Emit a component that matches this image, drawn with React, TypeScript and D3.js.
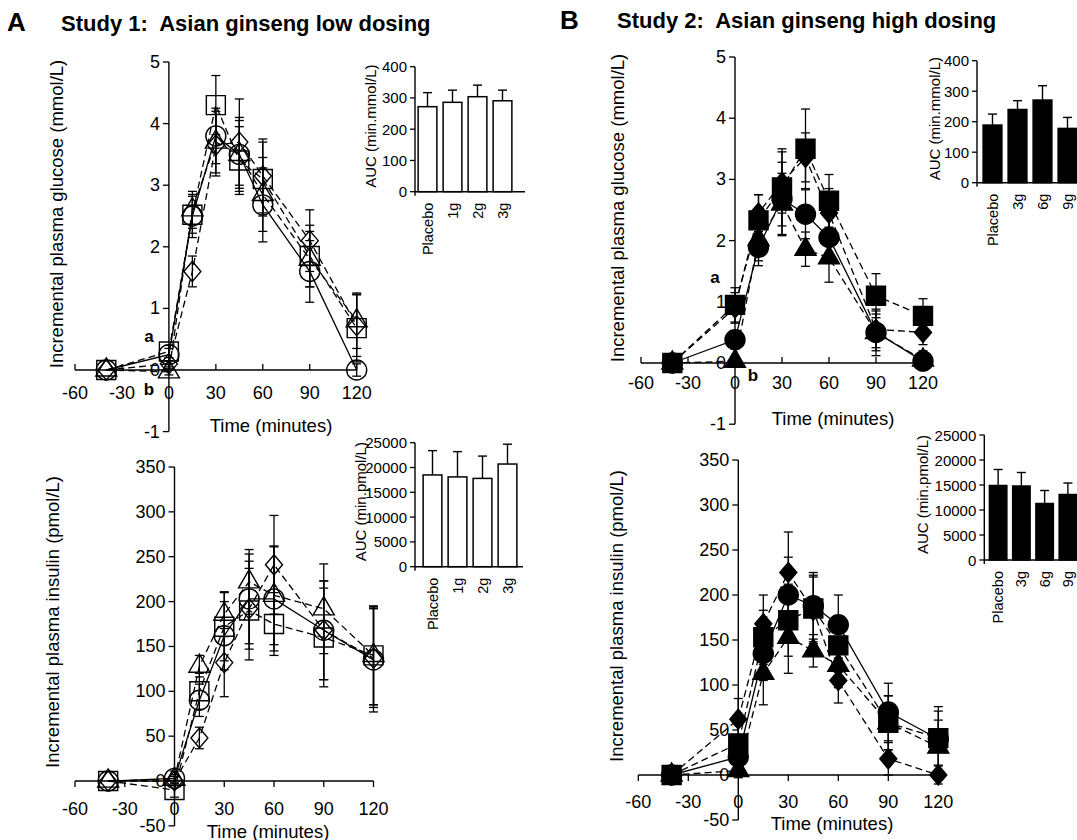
import React from "react";
import * as d3 from "d3";

const FONT = "'Liberation Sans', Arial, Helvetica, sans-serif";

// sampling times (minutes)
const times = [-40, 0, 15, 30, 45, 60, 90, 120];
const xTicks = [-60, -30, 0, 30, 60, 90, 120];
const glucoseTicks = [-1, 0, 1, 2, 3, 4, 5];
const insulinTicks = [-50, 0, 50, 100, 150, 200, 250, 300, 350];

// Study 1 (low dose) glucose, mmol/L
const s1GluCircle = [0, 0.25, 2.5, 3.8, 3.5, 2.68, 1.6, 0];
const s1GluCircleErr = [0, 0.1, 0.35, 0.45, 0.55, 0.6, 0.5, 0.1];
const s1GluSquare = [0, 0.3, 2.52, 4.3, 3.4, 3.1, 1.85, 0.68];
const s1GluSquareErr = [0, 0.1, 0.3, 0.48, 0.55, 0.6, 0.5, 0.55];
const s1GluTriangle = [0, -0.03, 2.6, 3.7, 3.5, 2.85, 1.8, 0.8];
const s1GluTriangleErr = [0, 0.05, 0.3, 0.5, 0.6, 0.6, 0.45, 0.45];
const s1GluDiamond = [0, 0.1, 1.6, 3.65, 3.7, 3.15, 2.1, 0.72];
const s1GluDiamondErr = [0, 0.05, 0.25, 0.5, 0.7, 0.6, 0.5, 0.5];

// Study 1 insulin, pmol/L
const s1InsCircle = [0, 3, 90, 162, 203, 203, 168, 135];
const s1InsCircleErr = [0, 8, 18, 38, 50, 58, 55, 58];
const s1InsSquare = [0, -10, 100, 172, 190, 175, 160, 140];
const s1InsSquareErr = [0, 8, 20, 38, 55, 35, 55, 55];
const s1InsTriangle = [0, 2, 128, 186, 222, 207, 192, 140];
const s1InsTriangleErr = [0, 5, 12, 25, 36, 55, 50, 55];
const s1InsDiamond = [0, 0, 48, 132, 192, 241, 168, 137];
const s1InsDiamondErr = [0, 5, 12, 38, 45, 55, 55, 55];

// Study 2 (high dose) glucose
const s2GluCircle = [0, 0.38, 1.89, 2.68, 2.43, 2.05, 0.5, 0.03];
const s2GluCircleErr = [0, 0.15, 0.3, 0.6, 0.4, 0.4, 0.38, 0.15];
const s2GluSquare = [0, 0.95, 2.33, 2.87, 3.5, 2.65, 1.1, 0.77];
const s2GluSquareErr = [0, 0.28, 0.42, 0.63, 0.65, 0.43, 0.36, 0.28];
const s2GluTriangle = [0, 0.03, 2.02, 2.6, 1.86, 1.72, 0.5, 0.05];
const s2GluTriangleErr = [0, 0.05, 0.35, 0.5, 0.28, 0.4, 0.3, 0.15];
const s2GluDiamond = [0, 0.9, 2.45, 2.95, 3.36, 2.45, 0.55, 0.5];
const s2GluDiamondErr = [0, 0.25, 0.3, 0.5, 0.4, 0.4, 0.3, 0.2];

// Study 2 insulin
const s2InsCircle = [0, 20, 135, 200, 188, 167, 70, 40];
const s2InsCircleErr = [0, 12, 30, 42, 37, 33, 32, 36];
const s2InsSquare = [0, 35, 153, 172, 185, 144, 58, 41];
const s2InsSquareErr = [0, 20, 30, 40, 37, 30, 30, 30];
const s2InsTriangle = [0, 5, 113, 153, 138, 122, 58, 31];
const s2InsTriangleErr = [0, 8, 35, 40, 18, 25, 30, 30];
const s2InsDiamond = [0, 62, 168, 225, 183, 105, 18, 0];
const s2InsDiamondErr = [0, 23, 32, 45, 37, 25, 18, 10];

// AUC insets
const s1Doses = ["Placebo", "1g", "2g", "3g"];
const s2Doses = ["Placebo", "3g", "6g", "9g"];
const s1GluAuc = [272, 286, 304, 291];
const s1GluAucErr = [45, 39, 37, 34];
const s1InsAuc = [18500, 18100, 17800, 20700];
const s1InsAucErr = [4900, 5100, 4500, 4000];
const s2GluAuc = [189, 240, 271, 178];
const s2GluAucErr = [36, 29, 47, 36];
const s2InsAuc = [14900, 14800, 11300, 13100];
const s2InsAucErr = [3200, 2700, 2600, 2300];
const gluAucTicks = [0, 100, 200, 300, 400];
const insAucTicks = [0, 5000, 10000, 15000, 20000, 25000];

type Series = { shape: string; dashed: boolean; values: number[]; errors: number[] };

const mk = (v: number[][]): Series[] => [
  { shape: "circle", dashed: false, values: v[0], errors: v[1] },
  { shape: "square", dashed: true, values: v[2], errors: v[3] },
  { shape: "triangle", dashed: true, values: v[4], errors: v[5] },
  { shape: "diamond", dashed: true, values: v[6], errors: v[7] },
];

const s1Glu = mk([s1GluCircle, s1GluCircleErr, s1GluSquare, s1GluSquareErr, s1GluTriangle, s1GluTriangleErr, s1GluDiamond, s1GluDiamondErr]);
const s1Ins = mk([s1InsCircle, s1InsCircleErr, s1InsSquare, s1InsSquareErr, s1InsTriangle, s1InsTriangleErr, s1InsDiamond, s1InsDiamondErr]);
const s2Glu = mk([s2GluCircle, s2GluCircleErr, s2GluSquare, s2GluSquareErr, s2GluTriangle, s2GluTriangleErr, s2GluDiamond, s2GluDiamondErr]);
const s2Ins = mk([s2InsCircle, s2InsCircleErr, s2InsSquare, s2InsSquareErr, s2InsTriangle, s2InsTriangleErr, s2InsDiamond, s2InsDiamondErr]);

function markerPath(shape: string) {
  if (shape === "circle") return d3.symbol(d3.symbolCircle, Math.PI * 10 * 10)()!;
  if (shape === "square") return d3.symbol(d3.symbolSquare, 19 * 19)()!;
  if (shape === "triangle") return d3.symbol(d3.symbolTriangle, (Math.sqrt(3) / 4) * 21 * 21)()!;
  return "M0,-10L8.5,0L0,10L-8.5,0Z";
}

type PanelProps = {
  series: Series[];
  xRange: [number, number];
  yDomain: [number, number];
  yRange: [number, number];
  yTicks: number[];
  filled: boolean;
  tickUp: boolean;
  labelGap: number;
  xTitle: [number, number];
  yTitle: [number, number, string];
};

function TimePanel({ series, xRange, yDomain, yRange, yTicks, filled, tickUp, labelGap, xTitle, yTitle }: PanelProps) {
  const x = d3.scaleLinear().domain([-60, 120]).range(xRange);
  const y = d3.scaleLinear().domain(yDomain).range(yRange);
  const line = d3
    .line<number>()
    .x((_, i) => x(times[i]))
    .y((d) => y(d));
  const x0 = x(0);
  const y0 = y(0);

  return (
    <g fontFamily={FONT}>
      {/* x axis */}
      <line x1={x(-60)} x2={x(120)} y1={y0} y2={y0} stroke="black" strokeWidth={1.4} />
      {xTicks.map((t) => (
        <g key={t}>
          {t !== 0 && (
            <line x1={x(t)} x2={x(t)} y1={y0} y2={tickUp ? y0 - 6 : y0 + 6} stroke="black" strokeWidth={1.3} />
          )}
          <text x={x(t)} y={y0 + labelGap} textAnchor="middle" dominantBaseline="central" fontSize={18}>
            {t}
          </text>
        </g>
      ))}
      {/* y axis */}
      <line x1={x0} x2={x0} y1={y(yDomain[0])} y2={y(yDomain[1])} stroke="black" strokeWidth={1.4} />
      {yTicks.map((t) => (
        <g key={t}>
          <line x1={x0 - 6} x2={x0} y1={y(t)} y2={y(t)} stroke="black" strokeWidth={1.3} />
          <text x={x0 - 9} y={y(t)} textAnchor="end" dominantBaseline="central" fontSize={18}>
            {t}
          </text>
        </g>
      ))}

      {/* series */}
      {series.map((s) => (
        <g key={s.shape}>
          <path
            d={line(s.values)!}
            fill="none"
            stroke="black"
            strokeWidth={1.3}
            strokeDasharray={s.dashed ? "7,4" : undefined}
          />
          {s.values.map((v, i) =>
            s.errors[i] > 0 ? (
              <g key={i} stroke="black" strokeWidth={1.3}>
                <line x1={x(times[i])} x2={x(times[i])} y1={y(v - s.errors[i])} y2={y(v + s.errors[i])} />
                <line x1={x(times[i]) - 4.5} x2={x(times[i]) + 4.5} y1={y(v + s.errors[i])} y2={y(v + s.errors[i])} />
                <line x1={x(times[i]) - 4.5} x2={x(times[i]) + 4.5} y1={y(v - s.errors[i])} y2={y(v - s.errors[i])} />
              </g>
            ) : null
          )}
          {s.values.map((v, i) => (
            <path
              key={"m" + i}
              d={markerPath(s.shape)}
              transform={`translate(${x(times[i])},${y(v)})`}
              fill={filled ? "black" : "none"}
              stroke="black"
              strokeWidth={1.4}
            />
          ))}
        </g>
      ))}

      <text x={xTitle[0]} y={xTitle[1]} textAnchor="middle" dominantBaseline="central" fontSize={18.5}>
        Time (minutes)
      </text>
      <text
        transform={`translate(${yTitle[0]},${yTitle[1]}) rotate(-90)`}
        textAnchor="middle"
        dominantBaseline="central"
        fontSize={18.5}
      >
        {yTitle[2]}
      </text>
    </g>
  );
}

type InsetProps = {
  cats: string[];
  means: number[];
  errs: number[];
  ticks: number[];
  filled: boolean;
  axisX: number;
  axisEnd: number;
  yRange: [number, number];
  band: [number, number];
  title: string;
  titleX: number;
};

function Inset({ cats, means, errs, ticks, filled, axisX, axisEnd, yRange, band, title, titleX }: InsetProps) {
  const y = d3
    .scaleLinear()
    .domain([0, ticks[ticks.length - 1]])
    .range(yRange);
  const x = d3.scaleBand().domain(cats).range(band).paddingInner(0.25).paddingOuter(0.125);
  const y0 = y(0);
  return (
    <g fontFamily={FONT}>
      {cats.map((c, i) => {
        const cx = x(c)! + x.bandwidth() / 2;
        return (
          <g key={c}>
            <rect
              x={x(c)}
              y={y(means[i])}
              width={x.bandwidth()}
              height={y0 - y(means[i])}
              fill={filled ? "black" : "white"}
              stroke="black"
              strokeWidth={1.5}
            />
            <line x1={cx} x2={cx} y1={y(means[i])} y2={y(means[i] + errs[i])} stroke="black" strokeWidth={1.4} />
            <line
              x1={cx - 4.5}
              x2={cx + 4.5}
              y1={y(means[i] + errs[i])}
              y2={y(means[i] + errs[i])}
              stroke="black"
              strokeWidth={1.4}
            />
            <text
              transform={`translate(${cx},${y0 + 11}) rotate(-90)`}
              textAnchor="end"
              dominantBaseline="central"
              fontSize={14.5}
            >
              {c}
            </text>
          </g>
        );
      })}
      <line x1={axisX} x2={axisX} y1={y0 + 4} y2={yRange[1]} stroke="black" strokeWidth={1.4} />
      <line x1={axisX} x2={axisEnd} y1={y0} y2={y0} stroke="black" strokeWidth={1.4} />
      {ticks.map((t) => (
        <g key={t}>
          <line x1={axisX - 5} x2={axisX} y1={y(t)} y2={y(t)} stroke="black" strokeWidth={1.3} />
          <text x={axisX - 8} y={y(t)} textAnchor="end" dominantBaseline="central" fontSize={15}>
            {t}
          </text>
        </g>
      ))}
      <text
        transform={`translate(${titleX},${(yRange[0] + yRange[1]) / 2 - 3}) rotate(-90)`}
        textAnchor="middle"
        dominantBaseline="central"
        fontSize={15}
      >
        {title}
      </text>
    </g>
  );
}

export default function App() {
  return (
    <div style={{ position: "absolute", left: 0, top: 0 }}>
      <svg width={1077} height={840} style={{ display: "block", background: "white" }}>
        <g fontFamily={FONT} fontWeight="bold">
          <text x={7} y={31} fontSize={26}>A</text>
          <text x={61} y={31} fontSize={22}>{"Study 1:\u00a0 Asian ginseng low dosing"}</text>
          <text x={560} y={29} fontSize={26}>B</text>
          <text x={617} y={28} fontSize={22}>{"Study 2:\u00a0 Asian ginseng high dosing"}</text>
          <text x={149} y={336} fontSize={17} textAnchor="middle" dominantBaseline="central">a</text>
          <text x={149} y={389} fontSize={17} textAnchor="middle" dominantBaseline="central">b</text>
          <text x={715} y={277} fontSize={17} textAnchor="middle" dominantBaseline="central">a</text>
          <text x={753} y={375} fontSize={17} textAnchor="middle" dominantBaseline="central">b</text>
        </g>

        <TimePanel
          series={s1Glu}
          xRange={[75, 356.7]}
          yDomain={[-1, 5]}
          yRange={[431.6, 62]}
          yTicks={glucoseTicks}
          filled={false}
          tickUp={true}
          labelGap={23}
          xTitle={[271, 425]}
          yTitle={[56, 214, "Incremental plasma glucose (mmol/L)"]}
        />
        <TimePanel
          series={s1Ins}
          xRange={[75, 373.5]}
          yDomain={[-50, 350]}
          yRange={[825.9, 467]}
          yTicks={insulinTicks}
          filled={false}
          tickUp={false}
          labelGap={28}
          xTitle={[268, 831]}
          yTitle={[52, 622, "Incremental plasma insulin (pmol/L)"]}
        />
        <TimePanel
          series={s2Glu}
          xRange={[641, 923]}
          yDomain={[-1, 5]}
          yRange={[424.2, 57]}
          yTicks={glucoseTicks}
          filled={true}
          tickUp={true}
          labelGap={20}
          xTitle={[833, 418]}
          yTitle={[617, 208, "Incremental plasma glucose (mmol/L)"]}
        />
        <TimePanel
          series={s2Ins}
          xRange={[638.3, 938.3]}
          yDomain={[-50, 350]}
          yRange={[820, 460]}
          yTicks={insulinTicks}
          filled={true}
          tickUp={false}
          labelGap={27}
          xTitle={[832, 823]}
          yTitle={[616, 616, "Incremental plasma insulin (pmol/L)"]}
        />

        <Inset
          cats={s1Doses}
          means={s1GluAuc}
          errs={s1GluAucErr}
          ticks={gluAucTicks}
          filled={false}
          axisX={415}
          axisEnd={525}
          yRange={[191.7, 66.7]}
          band={[415, 515]}
          title="AUC (min.mmol/L)"
          titleX={370}
        />
        <Inset
          cats={s1Doses}
          means={s1InsAuc}
          errs={s1InsAucErr}
          ticks={insAucTicks}
          filled={false}
          axisX={415}
          axisEnd={523}
          yRange={[566.7, 442.7]}
          band={[420, 520]}
          title="AUC (min.pmol/L)"
          titleX={360}
        />
        <Inset
          cats={s2Doses}
          means={s2GluAuc}
          errs={s2GluAucErr}
          ticks={gluAucTicks}
          filled={true}
          axisX={977}
          axisEnd={1077}
          yRange={[182.7, 60.7]}
          band={[980, 1080]}
          title="AUC (min.mmol/L)"
          titleX={934}
        />
        <Inset
          cats={s2Doses}
          means={s2InsAuc}
          errs={s2InsAucErr}
          ticks={insAucTicks}
          filled={true}
          axisX={984.3}
          axisEnd={1077}
          yRange={[560, 435]}
          band={[986.5, 1079.5]}
          title="AUC (min.pmol/L)"
          titleX={922}
        />
      </svg>
    </div>
  );
}
